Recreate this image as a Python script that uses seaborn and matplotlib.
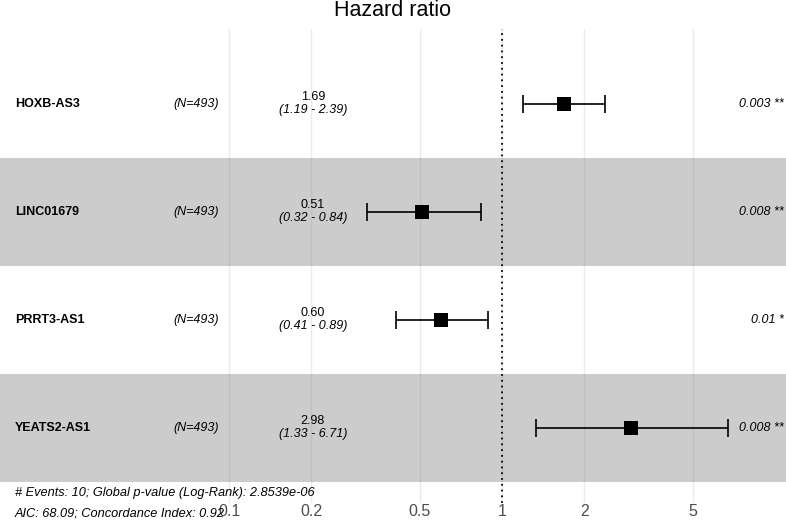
import numpy as np
import pandas as pd
import matplotlib
matplotlib.use("Agg")
import matplotlib.pyplot as plt
import seaborn as sns

# Cox model results
genes = ["HOXB-AS3", "LINC01679", "PRRT3-AS1", "YEATS2-AS1"]
n_obs = [493, 493, 493, 493]
hr = [1.69, 0.51, 0.60, 2.98]
ci_low = [1.19, 0.32, 0.41, 1.33]
ci_high = [2.39, 0.84, 0.89, 6.71]
p_text = ["0.003 **", "0.008 **", "0.01 *", "0.008 **"]
x_ticks = [0.1, 0.2, 0.5, 1, 2, 5]
tick_labels = ["0.1", "0.2", "0.5", "1", "2", "5"]
footer = ["# Events: 10; Global p-value (Log-Rank): 2.8539e-06",
          "AIC: 68.09; Concordance Index: 0.92"]

df = pd.DataFrame({"gene": genes, "N": n_obs, "hr": hr,
                   "lo": ci_low, "hi": ci_high, "p": p_text})
df["pos"] = np.arange(len(df), 0, -1)

sns.set_theme(style="white")
plt.rcParams["font.family"] = ["Liberation Sans", "DejaVu Sans"]
plt.rcParams["text.color"] = "black"

fig = plt.figure(figsize=(7.86, 5.23), dpi=100)
ax = fig.add_axes([0, 0.0382, 1, 0.9064])

# alternating row bands
for i, row in df.iterrows():
    if i % 2 == 1:
        ax.axhspan(row["pos"] - 0.5, row["pos"] + 0.5, color="#cccccc", lw=0, zorder=0)

for xt in x_ticks:
    ax.axvline(xt, color="#8c8c8c", alpha=0.18, lw=1, zorder=1)
ax.axvline(1, color="black", ls=(0, (1, 2.2)), lw=1.3, zorder=2)

ax.errorbar(df["hr"], df["pos"], xerr=[df["hr"] - df["lo"], df["hi"] - df["hr"]],
            fmt="none", ecolor="black", elinewidth=1.2, capsize=6.5, capthick=1.2, zorder=3)
sns.scatterplot(data=df, x="hr", y="pos", marker="s", s=115, color="black",
                edgecolor="black", linewidth=0, ax=ax, zorder=4, legend=False)

ax.set_xscale("log")
ax.set_xlim(0.01449, 10.97)
ax.set_ylim(0.306, 4.694)

tr = ax.get_yaxis_transform()
for _, row in df.iterrows():
    y = row["pos"]
    ax.text(0.019, y, row["gene"], transform=tr, ha="left", va="center",
            fontsize=9, fontweight="bold")
    ax.text(0.278, y, f"(N={row['N']})", transform=tr, ha="right", va="center",
            fontsize=9, fontstyle="italic")
    ax.text(0.398, y + 0.065, f"{row['hr']:.2f}", transform=tr, ha="center",
            va="center", fontsize=9)
    ax.text(0.398, y - 0.055, f"({row['lo']:.2f} - {row['hi']:.2f})", transform=tr,
            ha="center", va="center", fontsize=9, fontstyle="italic")
    ax.text(0.997, y, row["p"], transform=tr, ha="right", va="center",
            fontsize=9, fontstyle="italic")

ax.set_xticks(x_ticks)
ax.set_xticklabels(tick_labels)
ax.xaxis.set_minor_locator(matplotlib.ticker.NullLocator())
ax.tick_params(axis="x", length=0, pad=1, labelsize=11.5, labelcolor="#4d4d4d")
ax.set_yticks([])
ax.set_xlabel("")
ax.set_ylabel("")
for s in ax.spines.values():
    s.set_visible(False)

fig.text(0.5, 0.979, "Hazard ratio", ha="center", va="center", fontsize=15.5)
fig.text(0.019, 1 - 493 / 523, footer[0], ha="left", va="center",
         fontsize=9.2, fontstyle="italic")
fig.text(0.019, 1 - 514 / 523, footer[1], ha="left", va="center",
         fontsize=9.2, fontstyle="italic")

fig.savefig("out.png", dpi=100)
